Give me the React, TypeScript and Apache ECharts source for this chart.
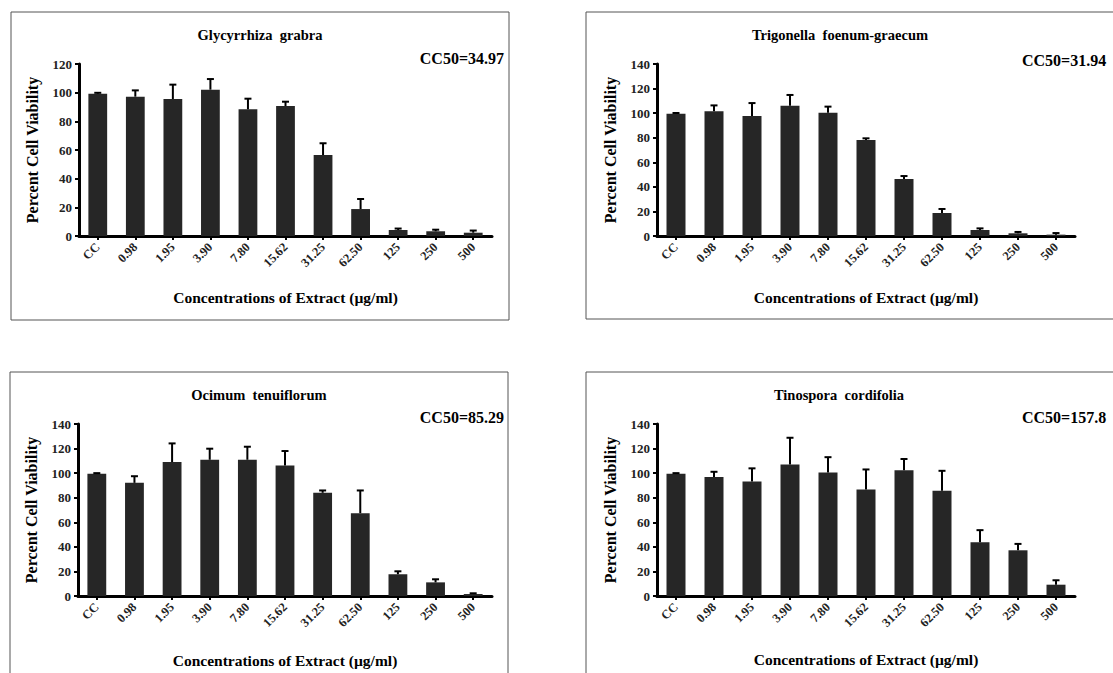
import React, { useEffect, useRef } from "react";
import * as echarts from "echarts";

const categories = ["CC", "0.98", "1.95", "3.90", "7.80", "15.62", "31.25", "62.50", "125", "250", "500"];

const glycyrrhizaMean = [99.3, 97.2, 95.6, 102.1, 88.4, 90.7, 56.5, 18.8, 4.2, 3.3, 2.3];
const glycyrrhizaErr = [0.6, 4.4, 10.0, 7.4, 7.4, 3.0, 8.2, 7.0, 1.0, 1.1, 1.5];

const trigonellaMean = [99.6, 101.5, 97.7, 106.1, 100.4, 78.1, 46.4, 18.7, 4.9, 2.2, 1.1];
const trigonellaErr = [0.5, 4.8, 10.5, 8.7, 4.9, 1.4, 2.4, 3.3, 1.3, 1.1, 1.3];

const ocimumMean = [99.5, 92.1, 109.0, 110.9, 110.9, 106.3, 84.0, 67.4, 17.7, 11.1, 1.6];
const ocimumErr = [0.5, 5.4, 15.2, 9.0, 10.6, 11.7, 1.9, 18.5, 2.4, 2.5, 0.6];

const tinosporaMean = [99.5, 96.8, 93.2, 107.1, 100.6, 86.7, 102.4, 85.6, 43.8, 37.2, 9.2];
const tinosporaErr = [0.5, 4.3, 10.7, 21.7, 12.4, 16.3, 9.1, 16.3, 9.8, 5.2, 3.6];

const titles = ["Glycyrrhiza  grabra", "Trigonella  foenum-graecum", "Ocimum  tenuiflorum", "Tinospora  cordifolia"];
const cc50Labels = ["CC50=34.97", "CC50=31.94", "CC50=85.29", "CC50=157.8"];
const yMaxes = [120, 140, 140, 140];

const FONT = "Times New Roman, Liberation Serif, serif";

export default function App() {
  const ref = useRef<HTMLDivElement>(null);

  useEffect(() => {
    if (!ref.current) return;
    const chart = echarts.init(ref.current, null, { renderer: "svg" });

    const means = [glycyrrhizaMean, trigonellaMean, ocimumMean, tinosporaMean];
    const errs = [glycyrrhizaErr, trigonellaErr, ocimumErr, tinosporaErr];

    const grids = [
      { left: 79, top: 64, right: 621, bottom: 437 },
      { left: 657, top: 64, right: 38, bottom: 437 },
      { left: 78, top: 424, right: 621, bottom: 77 },
      { left: 657, top: 424, right: 38, bottom: 77 },
    ];
    const titlePos = [
      { x: 260, y: 27 },
      { x: 840, y: 27 },
      { x: 259, y: 387 },
      { x: 839, y: 387 },
    ];
    const ccPos = [
      { x: 504, y: 58, align: "right" },
      { x: 1022, y: 60, align: "left" },
      { x: 504, y: 417, align: "right" },
      { x: 1022, y: 417, align: "left" },
    ];
    const xNameGap = [53, 53, 56, 55];

    const xAxis = grids.map((_, i) => ({
      type: "category",
      gridIndex: i,
      data: categories,
      name: "Concentrations of Extract (\u00b5g/ml)",
      nameLocation: "middle",
      nameGap: xNameGap[i],
      nameTextStyle: { fontFamily: FONT, fontWeight: "bold", fontSize: 15.5, color: "#000" },
      axisLine: { show: true, lineStyle: { color: "#000", width: 3 } },
      axisTick: { show: true, alignWithLabel: true, length: 4, lineStyle: { color: "#000", width: 2 } },
      axisLabel: {
        rotate: 45,
        interval: 0,
        margin: 9,
        fontFamily: FONT,
        fontWeight: "bold",
        fontSize: 12.5,
        color: "#222",
      },
      splitLine: { show: false },
    }));

    const yAxis = grids.map((_, i) => ({
      type: "value",
      gridIndex: i,
      min: 0,
      max: yMaxes[i],
      interval: 20,
      name: "Percent Cell Viability",
      nameLocation: "middle",
      nameGap: 39,
      nameTextStyle: { fontFamily: FONT, fontWeight: "bold", fontSize: 16, color: "#000" },
      axisLine: { show: true, lineStyle: { color: "#000", width: 3 } },
      axisTick: { show: true, length: 4, lineStyle: { color: "#000", width: 2 } },
      axisLabel: { fontFamily: FONT, fontWeight: "bold", fontSize: 13, color: "#222", margin: 7 },
      splitLine: { show: false },
    }));

    const series: any[] = [];
    for (let i = 0; i < 4; i++) {
      series.push({
        type: "bar",
        xAxisIndex: i,
        yAxisIndex: i,
        data: means[i],
        barWidth: "50%",
        itemStyle: { color: "#262626" },
        z: 2,
      });
      series.push({
        type: "custom",
        xAxisIndex: i,
        yAxisIndex: i,
        z: 3,
        data: categories.map((_, k) => [k, means[i][k], errs[i][k]]),
        encode: { x: 0, y: 1 },
        renderItem: (params: any, api: any) => {
          const x = api.value(0);
          const m = api.value(1);
          const e = api.value(2);
          const base = api.coord([x, m]);
          const top = api.coord([x, m + e]);
          const cap = 3.5;
          return {
            type: "group",
            children: [
              {
                type: "line",
                shape: { x1: base[0], y1: base[1], x2: top[0], y2: top[1] },
                style: { stroke: "#000", lineWidth: 2 },
              },
              {
                type: "line",
                shape: { x1: top[0] - cap, y1: top[1], x2: top[0] + cap, y2: top[1] },
                style: { stroke: "#000", lineWidth: 2 },
              },
            ],
          };
        },
      });
    }

    const graphic: any[] = [
      { type: "rect", shape: { x: 11, y: 12, width: 498, height: 308 }, style: { fill: "none", stroke: "#555", lineWidth: 1 } },
      { type: "rect", shape: { x: 586, y: 12, width: 560, height: 307 }, style: { fill: "none", stroke: "#555", lineWidth: 1 } },
      { type: "rect", shape: { x: 10, y: 372, width: 498, height: 330 }, style: { fill: "none", stroke: "#555", lineWidth: 1 } },
      { type: "rect", shape: { x: 586, y: 372, width: 560, height: 330 }, style: { fill: "none", stroke: "#555", lineWidth: 1 } },
    ];
    cc50Labels.forEach((t, i) => {
      graphic.push({
        type: "text",
        x: ccPos[i].x,
        y: ccPos[i].y,
        style: {
          text: t,
          font: `bold 16px ${FONT}`,
          fill: "#000",
          textAlign: ccPos[i].align,
          textVerticalAlign: "middle",
          verticalAlign: "middle",
        },
      });
    });

    chart.setOption({
      animation: false,
      backgroundColor: "#fff",
      title: titles.map((t, i) => ({
        text: t,
        left: titlePos[i].x,
        top: titlePos[i].y,
        textAlign: "center",
        padding: 0,
        textStyle: { fontFamily: FONT, fontWeight: "bold", fontSize: 14.5, color: "#000" },
      })),
      grid: grids,
      xAxis,
      yAxis,
      series,
      graphic,
    });

    return () => chart.dispose();
  }, []);

  return (
    <div
      ref={ref}
      style={{ position: "fixed", left: 0, top: 0, width: 1113, height: 673, background: "#fff" }}
    />
  );
}
